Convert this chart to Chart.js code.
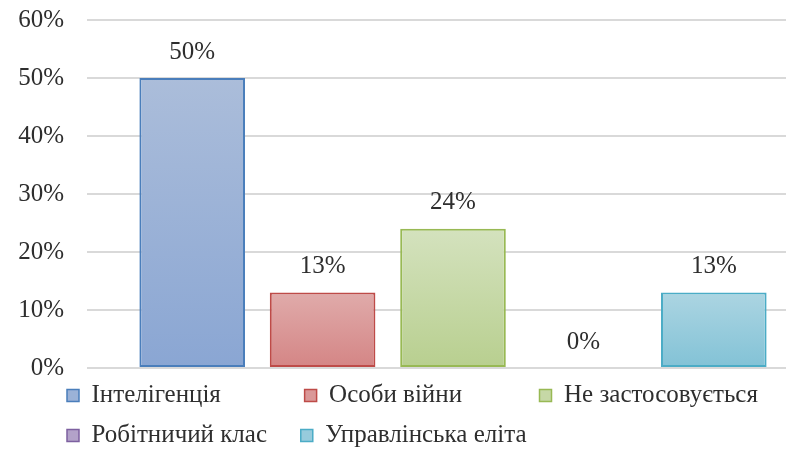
<!DOCTYPE html>
<html>
<head>
<meta charset="utf-8">
<script src="https://cdn.jsdelivr.net/npm/chart.js"></script>
<style>
  html, body { margin: 0; padding: 0; background: #fff; }
</style>
</head>
<body>
<canvas id="chart" width="786" height="452"></canvas>
<script>
// data
const categories = ['Інтелігенція', 'Особи війни', 'Не застосовується', 'Робітничий клас', 'Управлінська еліта'];
const values = [50, 13, 24, 0, 13];
const yTicks = [0, 10, 20, 30, 40, 50, 60];

// colours per category (gradient top / bottom, border)
const fillTop = ['#abbdda', '#e0abaa', '#d4e2be', '#c2b3d5', '#acd5e2'];
const fillBottom = ['#8aa6d3', '#d48585', '#b8cf8f', '#a18bbd', '#82c2d6'];
const legendFill = ['#9bb2d7', '#da9898', '#c6d8a6', '#b3a2c9', '#97cbdc'];
const borderColors = ['#4a7ebb', '#be4b48', '#98b954', '#7d60a0', '#4bacc6'];

const FONT = '"Liberation Serif", "Times New Roman", serif';
const TEXT = '#2e2e2e';
const GRID = '#d9d9d9';

// legend: columns 238px apart starting at x=67
const LEGEND_X = 67;
const LEGEND_PAD = 15;
const LEGEND_TEXT_W = 238 - LEGEND_PAD - 12 - 12.5;

function padLabel(ctx, text) {
    let s = text;
    while (ctx.measureText(s + '\u00a0').width <= LEGEND_TEXT_W) {
        s += '\u00a0';
    }
    return s;
}

function barFill(context) {
    const chart = context.chart;
    const i = context.dataIndex;
    if (!chart.chartArea || i === undefined) return fillBottom[0];
    const y = chart.scales.y;
    const top = y.getPixelForValue(values[i]);
    const base = y.getPixelForValue(0);
    if (base - top < 1) return fillBottom[i];
    const g = chart.ctx.createLinearGradient(0, top, 0, base);
    g.addColorStop(0, fillTop[i]);
    g.addColorStop(1, fillBottom[i]);
    return g;
}

// value labels above the bars
const barLabels = {
    id: 'barLabels',
    afterDatasetsDraw(chart) {
        const ctx = chart.ctx;
        const meta = chart.getDatasetMeta(0);
        ctx.save();
        ctx.font = '25px ' + FONT;
        ctx.fillStyle = TEXT;
        ctx.textAlign = 'center';
        ctx.textBaseline = 'middle';
        meta.data.forEach((bar, i) => {
            ctx.fillText(values[i] + '%', bar.x, bar.y - 26);
        });
        ctx.restore();
    }
};

// move the legend block so its first column lines up under the axis labels
const legendShift = {
    id: 'legendShift',
    afterLayout(chart) {
        const l = chart.legend;
        const dx = LEGEND_X - LEGEND_PAD - l.left;
        l.left += dx;
        l.right += dx;
    }
};

const ctx = document.getElementById('chart').getContext('2d');

new Chart(ctx, {
    type: 'bar',
    data: {
        labels: categories,
        datasets: [{
            data: values,
            backgroundColor: barFill,
            borderColor: borderColors,
            borderWidth: (c) => values[c.dataIndex] === 0 ? 0 : 2,
            borderSkipped: false,
            categoryPercentage: 1,
            barPercentage: 0.81
        }]
    },
    options: {
        responsive: false,
        animation: false,
        layout: {
            padding: { left: 0, right: 0, top: 20, bottom: -6 }
        },
        scales: {
            x: {
                display: false
            },
            y: {
                min: 0,
                max: 60,
                afterBuildTicks: (scale) => { scale.ticks = yTicks.map(v => ({ value: v })); },
                afterFit: (scale) => {
                    scale.width = 127;
                    scale.paddingTop = 15;
                },
                ticks: {
                    callback: (v) => v + '%',
                    font: { family: FONT, size: 25 },
                    color: TEXT,
                    padding: 23
                },
                grid: {
                    color: GRID,
                    lineWidth: 2,
                    drawTicks: true,
                    tickLength: 40
                },
                border: { display: false }
            },
            // only there to carry the gridlines out to the right edge
            y2: {
                position: 'right',
                min: 0,
                max: 60,
                afterBuildTicks: (scale) => { scale.ticks = yTicks.map(v => ({ value: v })); },
                afterFit: (scale) => { scale.width = 7; },
                ticks: { display: false },
                grid: {
                    color: GRID,
                    lineWidth: 2,
                    drawOnChartArea: false,
                    drawTicks: true,
                    tickLength: 7
                },
                border: { display: false }
            }
        },
        plugins: {
            tooltip: { enabled: false },
            legend: {
                position: 'bottom',
                align: 'start',
                labels: {
                    font: { family: FONT, size: 25 },
                    color: TEXT,
                    boxWidth: 12,
                    boxHeight: 12,
                    padding: LEGEND_PAD,
                    generateLabels: (chart) => {
                        const c = chart.ctx;
                        c.save();
                        c.font = '25px ' + FONT;
                        const items = categories.map((name, i) => ({
                            text: padLabel(c, name),
                            fillStyle: legendFill[i],
                            strokeStyle: borderColors[i],
                            lineWidth: 1.5,
                            fontColor: TEXT,
                            hidden: false,
                            index: i,
                            datasetIndex: 0
                        }));
                        c.restore();
                        return items;
                    }
                }
            }
        }
    },
    plugins: [barLabels, legendShift]
});
</script>
</body>
</html>
